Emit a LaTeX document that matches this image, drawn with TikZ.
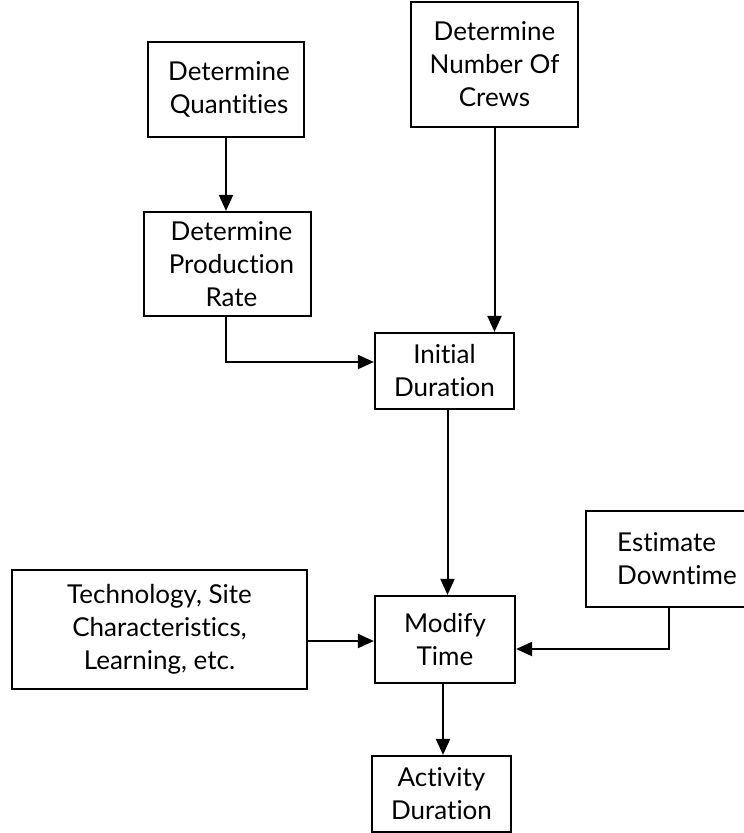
\documentclass[tikz,border=0pt]{standalone}
\usepackage{fontspec}
\setmainfont{Lato}[Ligatures=NoCommon, RawFeature=-clig]
\usetikzlibrary{arrows.meta,calc}
\begin{document}
\begin{tikzpicture}[x=1pt,y=-1pt,
  box/.style={draw, line width=2.2pt, rectangle, align=center, inner sep=0pt,
              font=\fontsize{26}{33}\selectfont},
  arr/.style={line width=2pt, -{Triangle[length=16pt,width=14pt]}}]
\useasboundingbox (0,0) rectangle (744,833);

% boxes
\node[box, minimum width=156pt, minimum height=95pt]  (Q) at (226,89.5)  {\hspace*{6pt}Determine\\\hspace*{6pt}Quantities};
\node[box, minimum width=167pt, minimum height=125pt] (C) at (494.5,64.5) {Determine\\Number Of\\Crews};
\node[box, minimum width=167pt, minimum height=104pt] (P) at (227.5,264) {\hspace*{8pt}Determine\\\hspace*{8pt}Production\\\hspace*{8pt}Rate};
\node[box, minimum width=139pt, minimum height=76pt]  (I) at (444.5,371) {Initial\\Duration};
\node[box, align=left, minimum width=182pt, minimum height=96pt] (E) at (677,559) {Estimate\\Downtime};
\node[box, minimum width=295pt, minimum height=119pt] (T) at (159.5,629.5) {Technology, Site\\Characteristics,\\Learning, etc.};
\node[box, minimum width=140pt, minimum height=87pt]  (M) at (445,639.5) {Modify\\Time};
\node[box, minimum width=139pt, minimum height=76pt]  (A) at (441.5,794) {Activity\\Duration};

% attachment points on the box sides
\path (P.south) ++(-2,0) coordinate (pOut)
      (I.west)  ++(0,-9) coordinate (iIn)
      (I.south) ++(3,0)  coordinate (iOut)
      (M.west)  ++(0,1.5) coordinate (mInL)
      (M.east)  ++(0,9.5) coordinate (mInR)
      (E.south) ++(-8,0) coordinate (eOut)
      (M.south) ++(-2,0) coordinate (mOut);

% connectors
\draw[arr] (Q.south) -- (Q.south |- P.north);
\draw[arr] (C.south) -- (C.south |- I.north);
\draw[arr] (pOut) |- (iIn);
\draw[arr] (iOut) -- (iOut |- M.north);
\draw[arr] (mInL -| T.east) -- (mInL);
\draw[arr] (eOut) |- (mInR);
\draw[arr] (mOut) -- (mOut |- A.north);
\end{tikzpicture}
\end{document}
